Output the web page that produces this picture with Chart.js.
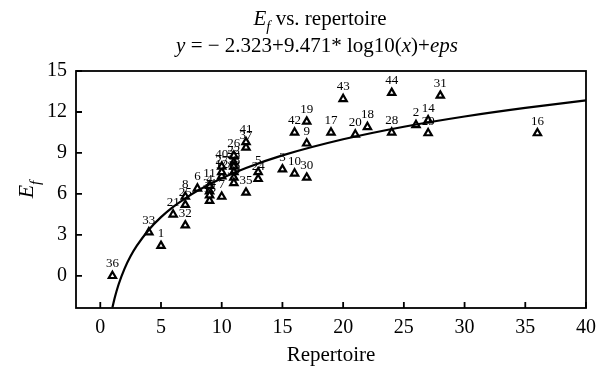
<!DOCTYPE html>
<html>
<head>
<meta charset="utf-8">
<script src="https://cdn.jsdelivr.net/npm/chart.js@4/dist/chart.umd.min.js"></script>
<style>
  body { margin: 0; background: #fff; }
  #wrap { width: 605px; height: 366px; }
</style>
</head>
<body>
<div id="wrap"><canvas id="myChart" width="605" height="366"></canvas></div>
<script>
// observations: id, repertoire size, Ef
const ids        = [1, 2, 3, 4, 5, 6, 7, 8, 9, 10, 11, 12, 13, 14, 15, 16, 17, 18, 19, 20, 21, 22,
                    23, 24, 25, 26, 27, 28, 29, 30, 31, 32, 33, 34, 35, 36, 37, 38, 39, 40, 41, 42, 43, 44];
const repertoire = [5, 26, 15, 9, 13, 8, 10, 7, 17, 16, 9, 10, 11, 27, 9, 36, 19, 22, 17, 21, 6, 11,
                    11, 13, 7, 11, 10, 24, 27, 17, 28, 7, 4, 9, 12, 1, 12, 11, 11, 10, 12, 16, 20, 24];
const ef         = [2.2, 11.05, 7.8, 6.2, 7.6, 6.4, 5.8, 5.8, 9.7, 7.5, 6.6, 7.3, 7.2, 11.4, 5.5, 10.45, 10.5, 10.9, 11.3, 10.35, 4.5, 8.3,
                    8.0, 7.1, 5.2, 8.8, 7.6, 10.5, 10.45, 7.2, 13.2, 3.7, 3.2, 5.9, 6.1, 0, 9.4, 7.6, 6.8, 8.0, 9.8, 10.5, 12.95, 13.4];

// fitted curve y = -2.323 + 9.471*log10(x)
const fitX = [1, 1.2, 1.5, 2, 2.5, 3, 4, 5, 6, 7, 8, 10, 12, 15, 20, 25, 30, 35, 40];
const fitY = [-2.32, -1.57, -0.65, 0.53, 1.45, 2.19, 3.38, 4.30, 5.05, 5.68, 6.23, 7.15, 7.90, 8.82, 10.00, 10.92, 11.67, 12.30, 12.85];

const xTicks = [0, 5, 10, 15, 20, 25, 30, 35, 40];
const yTicks = [0, 3, 6, 9, 12, 15];

const SERIF = '"Liberation Serif", "DejaVu Serif", serif';

// draw a line of text made of runs {t, it, sub}
function drawRuns(ctx, runs, cx, cy, size) {
  let total = 0;
  runs.forEach(r => {
    const s = r.sub ? size * 0.7 : size;
    ctx.font = (r.it ? 'italic ' : '') + s + 'px ' + SERIF;
    r.w = ctx.measureText(r.t).width;
    total += r.w;
  });
  let x = cx - total / 2;
  ctx.textAlign = 'left';
  ctx.textBaseline = 'alphabetic';
  runs.forEach(r => {
    const s = r.sub ? size * 0.7 : size;
    ctx.font = (r.it ? 'italic ' : '') + s + 'px ' + SERIF;
    ctx.fillText(r.t, x, cy + (r.sub ? size * 0.3 : 0));
    x += r.w;
  });
}

const decorations = {
  id: 'decorations',
  afterDraw(chart) {
    const ctx = chart.ctx;
    const a = chart.chartArea;
    const xs = chart.scales.x, ys = chart.scales.y;
    ctx.save();
    ctx.strokeStyle = '#000';
    ctx.fillStyle = '#000';
    ctx.lineWidth = 1.8;
    ctx.strokeRect(a.left, a.top, a.right - a.left, a.bottom - a.top);
    // inward ticks
    ctx.beginPath();
    xTicks.forEach(v => {
      const px = xs.getPixelForValue(v);
      ctx.moveTo(px, a.bottom); ctx.lineTo(px, a.bottom - 6);
    });
    yTicks.forEach(v => {
      const py = ys.getPixelForValue(v);
      ctx.moveTo(a.left, py); ctx.lineTo(a.left + 6, py);
    });
    ctx.stroke();

    // point labels
    ctx.font = '13px ' + SERIF;
    ctx.textAlign = 'center';
    ctx.textBaseline = 'middle';
    ids.forEach((id, i) => {
      const px = xs.getPixelForValue(repertoire[i]);
      const py = ys.getPixelForValue(ef[i]);
      ctx.fillText(String(id), px, py - 12);
    });

    // titles
    drawRuns(ctx, [{t: 'E', it: true}, {t: 'f', it: true, sub: true}, {t: ' vs. repertoire'}], 320, 25, 21);
    drawRuns(ctx, [{t: 'y', it: true}, {t: ' = \u2212 2.323+9.471* log10('}, {t: 'x', it: true},
                   {t: ')+'}, {t: 'eps', it: true}], 317, 52, 21);
    drawRuns(ctx, [{t: 'Repertoire'}], (a.left + a.right) / 2, 361, 21);

    ctx.translate(33, (a.top + a.bottom) / 2);
    ctx.rotate(-Math.PI / 2);
    drawRuns(ctx, [{t: 'E', it: true}, {t: 'f', it: true, sub: true}], 0, 0, 22);
    ctx.restore();
  }
};

const ctx = document.getElementById('myChart').getContext('2d');
const myChart = new Chart(ctx, {
  type: 'scatter',
  data: {
    datasets: [
      {
        label: 'fit',
        type: 'line',
        data: fitX.map((x, i) => ({x: x, y: fitY[i]})),
        borderColor: '#000',
        borderWidth: 2.2,
        pointRadius: 0,
        fill: false,
        cubicInterpolationMode: 'monotone'
      },
      {
        label: 'Ef',
        data: repertoire.map((x, i) => ({x: x, y: ef[i]})),
        pointStyle: 'triangle',
        pointRadius: 4.2,
        backgroundColor: '#fff',
        borderColor: '#000',
        borderWidth: 2.2
      }
    ]
  },
  options: {
    responsive: false,
    animation: false,
    clip: false,
    layout: { padding: { top: 71, right: 19, left: 0, bottom: 0 } },
    plugins: { legend: { display: false }, tooltip: { enabled: false } },
    scales: {
      x: {
        type: 'linear',
        min: -2,
        max: 40,
        afterBuildTicks: s => { s.ticks = xTicks.map(v => ({value: v})); },
        afterFit: s => { s.height = 58; },
        grid: { display: false, drawTicks: false },
        border: { display: false },
        ticks: { color: '#000', padding: 8, font: { family: SERIF, size: 20 } }
      },
      y: {
        type: 'linear',
        min: -2.35,
        max: 15,
        afterBuildTicks: s => { s.ticks = yTicks.map(v => ({value: v})); },
        afterFit: s => { s.width = 76; },
        grid: { display: false, drawTicks: false },
        border: { display: false },
        ticks: { color: '#000', padding: 9, font: { family: SERIF, size: 20 } }
      }
    }
  },
  plugins: [decorations]
});
</script>
</body>
</html>
